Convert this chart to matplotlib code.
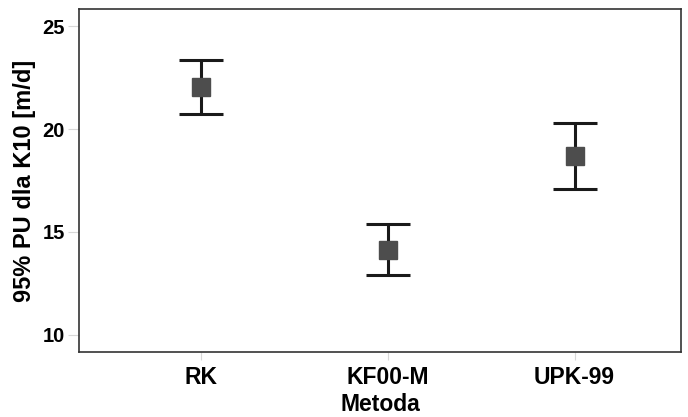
import matplotlib.pyplot as plt

# Dane
metody = ["RK", "KF00-M", "UPK-99"]
srednia = [22.05, 14.14, 18.69]
gorna = [23.34, 15.40, 20.28]
dolna = [20.71, 12.92, 17.11]

plt.rcParams['font.family'] = ['Liberation Sans', 'DejaVu Sans']

fig = plt.figure(figsize=(6.88, 4.17), dpi=100)
ax = fig.add_axes([0.1148, 0.1559, 0.8750, 0.8225])

x = list(range(1, len(metody) + 1))
err_low = [m - d for m, d in zip(srednia, dolna)]
err_high = [g - m for m, g in zip(srednia, gorna)]

ax.errorbar(x, srednia, yerr=[err_low, err_high], fmt='none',
            ecolor='#1a1a1a', elinewidth=2.2, capsize=16, capthick=2.2, zorder=2)
ax.plot(x, srednia, 's', color='#4d4d4d', markersize=13, zorder=3)

ax.set_xlim(0.346, 3.57)
ax.set_ylim(9.17, 25.83)
ax.set_yticks([10, 15, 20, 25])
ax.set_xticks(x)
ax.set_xticklabels(metody)

ax.tick_params(axis='y', labelsize=14.5, length=8, width=0.8, color='#d8d8d8', pad=2)
ax.tick_params(axis='x', labelsize=16.5, length=6, width=0.8, color='#d8d8d8', pad=4)
for lab in ax.get_xticklabels() + ax.get_yticklabels():
    lab.set_fontweight('bold')

ax.set_xlabel("Metoda", fontsize=16.5, fontweight='bold', labelpad=3)
ax.set_ylabel("95% PU dla K10 [m/d]", fontsize=17, fontweight='bold', labelpad=5)

for s in ax.spines.values():
    s.set_color('#333333')
    s.set_linewidth(1.2)

fig.savefig("out.png", dpi=100)
